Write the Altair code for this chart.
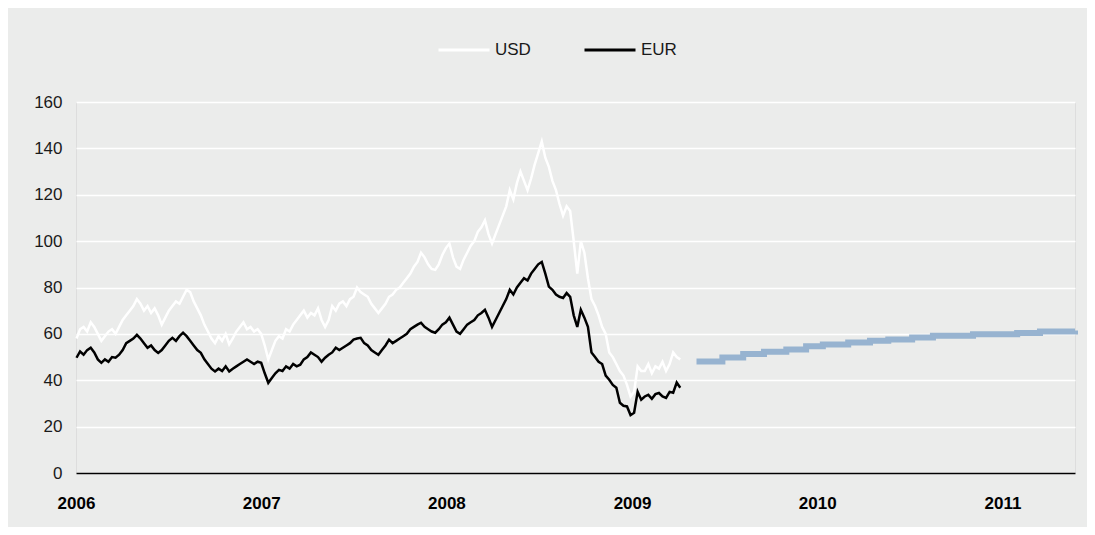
import altair as alt
import pandas as pd

# ---- data ----
week_start = "2006-01-02"  # weekly observations

usd = [58, 62, 63, 61, 65, 63, 60, 57,
       59, 61, 62, 60, 63, 66, 68, 70, 72,
       75, 73, 70, 72, 69, 71, 68, 64,
       67, 70, 72, 74, 73, 76, 79, 78,
       74, 71, 68, 64, 61, 58, 56,
       59, 57, 60, 55.5, 58, 61, 63, 65,
       62, 63, 61, 62, 60, 55, 49, 53,
       57, 59, 58, 62, 61, 64, 66, 68,
       70, 67, 69, 68, 71, 66, 63, 66,
       72, 70, 73, 74, 72, 75, 76, 80,
       78, 77, 76, 73, 71, 69, 71, 73,
       76, 77, 79, 80, 82, 84, 86, 89,
       91, 95, 93, 90, 88, 87.6, 90, 94,
       97, 99, 93, 89, 88, 92, 95, 98,
       100, 104, 106, 109, 103, 99, 103, 107,
       111, 115, 122, 118, 125, 130, 126, 122,
       127, 133, 138, 143, 136, 132, 126, 122,
       116, 111, 115, 113, 100, 86, 100, 95,
       84, 75, 72, 68, 63, 60,
       52, 50, 47, 44, 42, 38, 33, 35, 46, 44,
       44, 47, 43, 46, 45, 48, 44, 47, 52, 50, 49]

eur = [49.7, 52.4, 51, 53, 54, 52, 49, 47.5,
       49, 48, 50, 49.7, 51, 53, 56, 57,
       58, 59.6, 58, 56, 54, 55, 53, 51.8,
       53, 55, 57, 58.3, 57, 59, 60.5, 59,
       57, 55, 53, 51.8, 49, 47, 45, 43.8,
       45, 44, 46, 43.8, 45, 46, 47, 48,
       49, 48, 47, 48, 47.5, 43, 38.9, 41,
       43, 44.5, 44, 46, 45, 47, 46, 46.7,
       49, 50, 52, 51, 50, 48, 49.7, 51,
       52, 54, 53, 54, 55, 56, 57.5, 58,
       58.3, 56, 55, 53, 52, 51, 53, 55,
       57.5, 56, 57, 58, 59, 60, 62, 63,
       64, 64.8, 63, 62, 61, 60.5, 62, 64,
       65, 67, 64, 61, 60, 62, 64, 65,
       66, 68, 69, 70.4, 67, 63, 66, 69,
       72, 75, 79, 77, 80, 82, 84, 83,
       86, 88, 90, 91, 86, 80.4, 79, 77,
       76, 75.5, 77.6, 76, 68, 63, 70.4, 67,
       63, 52, 50, 48, 47, 42, 40.2, 38,
       36.8, 30.3, 29, 28.7, 25, 26, 35, 31.6,
       33, 33.7, 32, 34, 34.5, 33, 32.4, 35, 34.6, 39, 36.8]

fwd_dates = ["2009-05-08", "2009-06-28", "2009-08-08", "2009-09-18", "2009-11-01",
             "2009-12-10", "2010-01-12", "2010-03-03", "2010-04-15", "2010-05-21",
             "2010-07-07", "2010-08-17", "2010-11-04", "2011-01-30", "2011-03-16",
             "2011-05-24"]
fwd_values = [48.1, 49.8, 51.3, 52.3, 53.3, 54.7, 55.4, 56.3, 57.0, 57.6,
              58.4, 59.2, 59.8, 60.4, 61.0, 61.5]

series_names = ["USD", "EUR"]
series_colors = ["#ffffff", "#000000"]
year_ticks = [2006, 2007, 2008, 2009, 2010, 2011]
y_ticks = [0, 20, 40, 60, 80, 100, 120, 140, 160]

# ---- tables ----
dates = list(pd.date_range(week_start, periods=len(usd), freq="7D"))
hist = pd.DataFrame({
    "date": dates + dates,
    "price": usd + eur,
    "series": ["USD"] * len(usd) + ["EUR"] * len(eur),
})
fwd = pd.DataFrame({"date": pd.to_datetime(fwd_dates), "price": fwd_values})

FONT = "Liberation Sans"

x_enc = alt.X(
    "date:T",
    scale=alt.Scale(domain=[alt.DateTime(year=2006, month=1, date=1),
                            alt.DateTime(year=2011, month=5, date=24)]),
    axis=alt.Axis(
        values=[alt.DateTime(year=y, month=1, date=1) for y in year_ticks],
        format="%Y", title=None, grid=False, ticks=False, tickSize=0,
        labelPadding=22, labelFontWeight="bold", labelFontSize=17,
        labelColor="#000000", labelFont=FONT, labelFlush=False,
        labelAlign="center", domainColor="#000000", domainWidth=1.5,
    ),
)
y_enc = alt.Y(
    "price:Q",
    scale=alt.Scale(domain=[0, 160]),
    axis=alt.Axis(
        values=y_ticks, title=None, domain=False, ticks=False,
        labelPadding=14, labelFontSize=17, labelColor="#1a1a1a",
        labelFont=FONT, gridColor="#ffffff", gridWidth=1.3, gridOpacity=1,
    ),
)

hist_layer = alt.Chart(hist).mark_line(strokeWidth=2.5).encode(
    x=x_enc,
    y=y_enc,
    color=alt.Color(
        "series:N",
        scale=alt.Scale(domain=series_names, range=series_colors),
        legend=alt.Legend(
            orient="none", legendX=361, legendY=-79, direction="horizontal",
            title=None, symbolType="stroke", symbolSize=2601,
            symbolStrokeWidth=3, labelFontSize=17, labelFont=FONT,
            labelColor="#1a1a1a", labelOffset=4, columnPadding=47,
        ),
    ),
    detail="series:N",
)

fwd_layer = alt.Chart(fwd).mark_line(
    strokeWidth=6, color="#97b3d0", interpolate="step-after", strokeCap="butt"
).encode(x="date:T", y="price:Q")

chart = alt.layer(fwd_layer, hist_layer).properties(
    width=999,
    height=371,
    autosize=alt.AutoSizeParams(type="none"),
    padding={"left": 68, "top": 94, "right": 12, "bottom": 54},
    background="#ebeceb",
).configure_view(strokeWidth=0).configure(font=FONT)

chart.save("out.html", embed_options={"renderer": "svg", "actions": False})
